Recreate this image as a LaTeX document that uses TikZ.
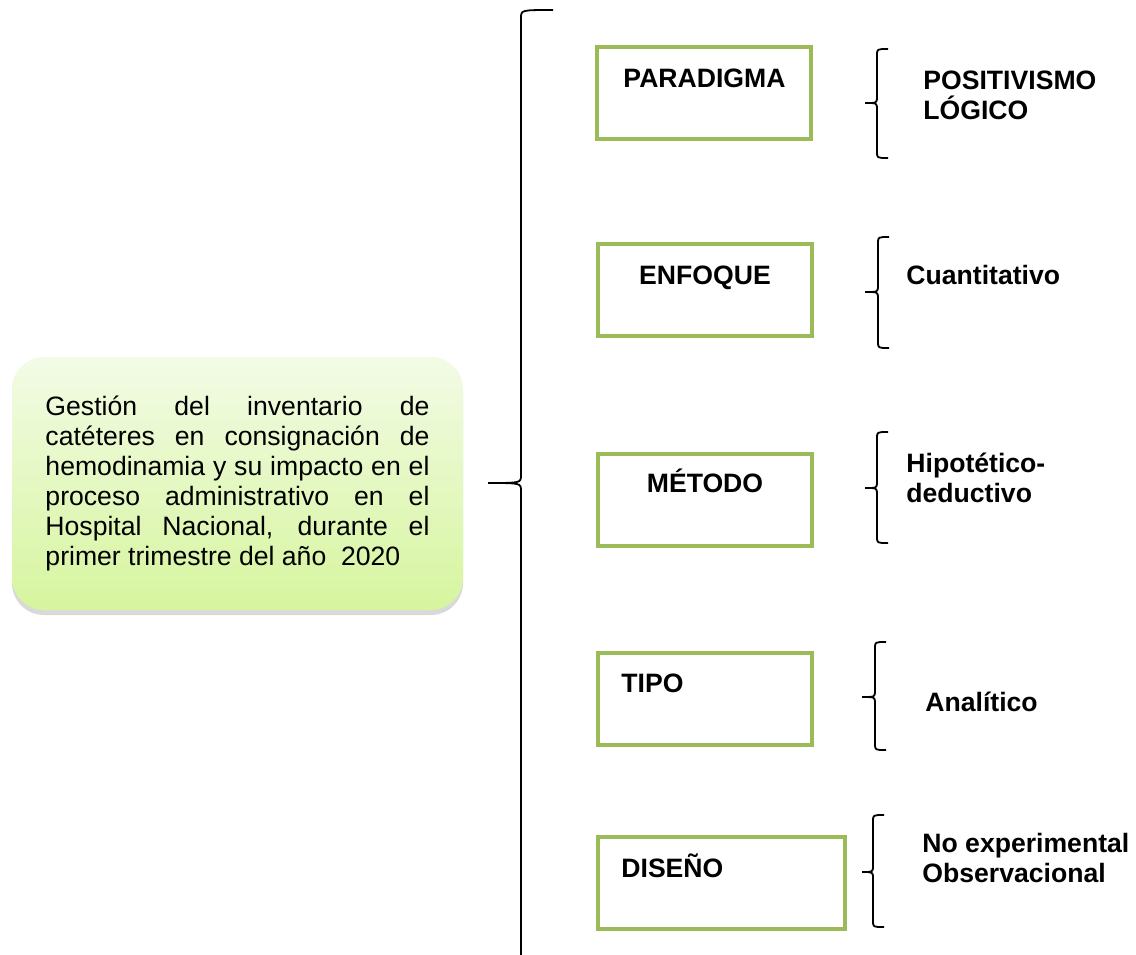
\documentclass[tikz,border=0pt]{standalone}
\usepackage{fontspec}
\setmainfont{Liberation Sans}
\usetikzlibrary{shadows}
\definecolor{OliveGreen}{RGB}{155,187,89}
\definecolor{LimeLight}{RGB}{243,251,230}
\definecolor{LimeDeep}{RGB}{214,245,158}

% llave: x vertical, x extremos, x punta, y arriba, y punta, y abajo, curva
\newcommand{\llave}[7]{%
  \draw[llavetrazo] (#2,#4) .. controls (#1,#4) .. (#1,#4+#7) -- (#1,#5-#7)
    .. controls (#1,#5) .. (#3,#5) .. controls (#1,#5) .. (#1,#5+#7)
    -- (#1,#6-#7) .. controls (#1,#6) .. (#2,#6);}

\begin{document}
\begin{tikzpicture}[x=0.5pt, y=-0.5pt,
    caja/.style={draw=OliveGreen, line width=2pt, minimum width=107pt, minimum height=46pt, inner sep=0pt},
    rotulo/.style={font=\fontsize{13.3}{15}\selectfont\bfseries, inner sep=0pt, text height=9.5pt, text depth=0pt},
    opcion/.style={font=\fontsize{13.3}{15}\selectfont\bfseries, inner sep=0pt, anchor=west, align=left},
    llavetrazo/.style={line width=0.9pt}]
  \useasboundingbox (0,0) rectangle (1136,954);

  % Tema
  \node[rounded corners=16pt, top color=LimeLight, bottom color=LimeDeep,
        minimum width=225.5pt, minimum height=126.5pt, text width=192pt, align=justify,
        font=\fontsize{13.3}{15}\selectfont,
        drop shadow={shadow xshift=0pt, shadow yshift=-2.5pt, opacity=0.3}] (tema) at (237.5,483.5)
    {Gestión del inventario de\linebreak catéteres en consignación de\linebreak hemodinamia y su impacto en el\linebreak proceso administrativo en el\linebreak Hospital Nacional, durante el\linebreak primer trimestre del año\ \ 2020};

  % Llave principal
  \llave{521}{553}{488}{10}{483}{962}{8}

  % Cajas
  \node[caja] (paradigma) at (704,92.5) {};
  \node[caja] (enfoque) at (705,290) {};
  \node[caja] (metodo) at (705,499.5) {};
  \node[caja] (tipo) at (705,699) {};
  \node[caja, minimum width=123.5pt] (diseno) at (721.5,882.5) {};

  \node[rotulo] (paradigmaT) at (704.5,78) {PARADIGMA};
  \node[rotulo] (enfoqueT) at (705,275) {ENFOQUE};
  \node[rotulo] (metodoT) at (705,483) {MÉTODO};
  \node[rotulo, anchor=west] (tipoT) at (621,683) {TIPO};
  \node[rotulo, anchor=west] (disenoT) at (621,868) {DISEÑO};

  % Llaves pequenas
  \llave{877}{888}{865}{49}{103}{158}{6}
  \llave{878}{889}{865}{237}{292}{348}{6}
  \llave{877}{888}{865}{432}{488}{543}{6}
  \llave{875}{886}{862}{642}{697}{750}{6}
  \llave{873}{884}{862}{815}{872}{927}{6}

  % Respuestas
  \node[opcion] (positivismo) at (923,95) {POSITIVISMO\\LÓGICO};
  \node[opcion] (cuantitativo) at (906,275) {Cuantitativo};
  \node[opcion] (hipotetico) at (906,478) {Hipotético-\\deductivo};
  \node[opcion] (analitico) at (925,702) {Analítico};
  \node[opcion] (noexp) at (922,857.5) {No experimental\\Observacional};
\end{tikzpicture}
\end{document}
